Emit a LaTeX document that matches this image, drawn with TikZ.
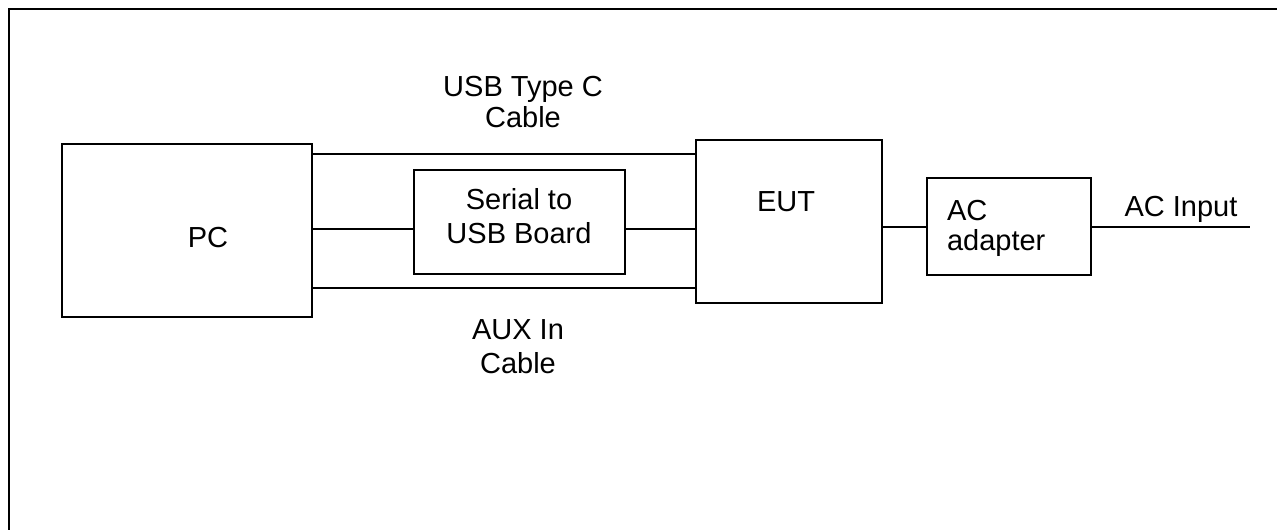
\documentclass[tikz,border=0pt]{standalone}
\usepackage{fontspec}
\setmainfont{Liberation Sans}
\begin{document}
\begin{tikzpicture}[x=0.5pt, y=-0.5pt, line width=1pt]
\tikzset{
  blockbox/.style={draw, rectangle, inner sep=0pt, anchor=north west},
  lbl/.style={align=center, inner sep=0pt, font=\fontsize{14.5}{17}\selectfont}
}
\useasboundingbox (0,0) rectangle (1277,529);
\clip (0,0) rectangle (1277,529);
\draw (9,9) rectangle (1300,560);
\node[blockbox, minimum width=125pt, minimum height=86.5pt] (pc) at (61,143) {};
\node[blockbox, minimum width=105.5pt, minimum height=52pt] (ser) at (413,169) {};
\node[blockbox, minimum width=93pt, minimum height=81.5pt] (eut) at (695,139) {};
\node[blockbox, minimum width=82pt, minimum height=48.5pt] (ac) at (926,177) {};
\coordinate (acin) at (1250,227);
\node[lbl] (pctxt) at (208,238) {PC};
\node[lbl] (sertxt) at (519,216.5) {Serial to\\USB Board};
\node[lbl, anchor=north] (euttxt) at (786,191) {EUT};
\node[lbl, align=left, anchor=north west, font=\fontsize{14.5}{15}\selectfont] (actxt) at (946,199) {AC\\adapter};
\node[lbl, anchor=north] (acintxt) at (1181,195) {AC Input};
\node[lbl, font=\fontsize{14.5}{15.5}\selectfont] (usbtxt) at (523,102.5) {USB Type C\\Cable};
\node[lbl] (auxtxt) at (518,347) {AUX In\\Cable};
\draw (pc.east |- 0,154) -- (eut.west |- 0,154);
\draw (pc.east |- 0,229) -- (ser.west |- 0,229);
\draw (ser.east |- 0,229) -- (eut.west |- 0,229);
\draw (pc.east |- 0,288) -- (eut.west |- 0,288);
\draw (eut.east |- 0,227) -- (ac.west |- 0,227);
\draw (ac.east |- acin) -- (acin);
\end{tikzpicture}
\end{document}
